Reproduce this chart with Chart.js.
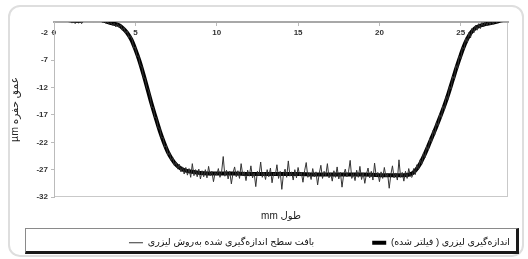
<!DOCTYPE html>
<html>
<head>
<meta charset="utf-8">
<script src="https://cdn.jsdelivr.net/npm/chart.js@4.4.1/dist/chart.umd.min.js"></script>
<style>
  html, body { margin: 0; padding: 0; background: #fff; }
  #wrap { position: relative; width: 528px; height: 259px; }
  .frame { position: absolute; left: 8px; top: 5px; width: 512px; height: 248px; border: 2px solid #dedede; border-radius: 12px; }
  .legend-box { position: absolute; left: 25px; top: 228px; width: 490px; height: 22px; border: 1px solid #8a8a8a; border-right: 3px solid #1a1a1a; border-bottom: 3px solid #1a1a1a; }
  canvas { position: absolute; left: 0; top: 0; }
</style>
</head>
<body>
<div id="wrap">
  <div class="frame"></div>
  <div class="legend-box"></div>
  <canvas id="chart" width="528" height="259"></canvas>
</div>
<script>
// axis ticks
const xTicks = [0, 5, 10, 15, 20, 25];
const yTicks = [-32, -27, -22, -17, -12, -7, -2];

// raw laser profile, sampled every 0.1 mm from 0 mm
const rawStepMm = 0.1;
const rawRim = [0.4, 0.1, 0.5, 0.2, 0.6, 0.3, 0.0, 0.4, 0.2, 0.5,
  0.1, -0.2, 0.2, -0.3, 0.1, -0.2, 0.0, -0.3, 0.3, 0.1,
  0.5, 0.2, 0.6, 0.3, 0.1, 0.5, 0.2, 0.4, 0.0, 0.3,
  -0.1, 0.2, -0.3, 0.0, -0.4];
const rawDescent = [-0.1, -0.6, -0.2, -0.9, -0.3, -1.0, -0.5, -1.5, -1.0, -2.1,
  -1.6, -2.9, -2.5, -3.2, -4.8, -4.6, -6.3, -6.2, -8.0, -8.1,
  -10.2, -10.3, -12.1, -12.4, -13.5, -15.6, -15.6, -17.5, -17.5, -19.4,
  -19.4, -21.2, -21.1, -22.9, -22.6, -24.3, -23.9, -25.3, -24.8, -26.3,
  -25.6, -26.9, -26.0, -27.4, -26.5, -27.8, -26.6, -28.0, -26.8, -28.4,
  -25.9, -28.1, -27.0, -28.3, -26.9, -28.7];
const rawFloor = [-27.2, -28.3, -27.0, -28.5, -26.4, -28.1, -27.3, -29.2, -27.5, -28.0,
  -26.8, -28.4, -27.4, -24.6, -28.2, -27.1, -28.7, -27.3, -29.6, -27.6,
  -26.5, -28.3, -27.2, -28.6, -25.9, -28.0, -27.4, -29.0, -27.1, -28.2,
  -26.3, -28.5, -27.6, -30.1, -27.3, -28.1, -25.6, -28.4, -27.5, -28.8,
  -27.0, -28.3, -26.7, -29.4, -27.6, -28.0, -26.1, -28.6, -27.3, -30.6,
  -27.8, -26.9, -28.4, -25.4, -28.2, -27.4, -28.9, -27.0, -28.5, -26.6,
  -28.1, -27.5, -29.3, -27.2, -25.7, -28.4, -27.6, -28.8, -26.8, -28.3,
  -27.4, -29.8, -27.7, -26.2, -28.6, -27.3, -28.1, -25.9, -28.5, -27.6,
  -29.1, -27.2, -28.4, -26.5, -28.7, -27.5, -30.2, -27.9, -26.9, -28.3,
  -27.4, -25.3, -28.6, -27.7, -29.0, -27.1, -28.4, -26.4, -28.8, -27.6,
  -29.5, -27.8, -26.7, -28.5, -27.3, -28.9, -25.8, -28.2, -27.5, -29.2,
  -27.4, -28.6, -26.6, -28.3, -27.7, -30.4, -27.9, -26.3, -28.5, -27.6,
  -28.9, -25.2, -28.4, -27.5, -29.1, -27.3, -28.6, -26.8, -28.2];
const rawAscent = [-28.4, -26.8, -27.9, -26.1, -27.0, -25.2, -26.0, -24.0, -24.8, -22.7,
  -23.4, -21.3, -22.0, -19.8, -20.6, -18.4, -19.0, -16.9, -17.5, -15.3,
  -16.0, -13.6, -14.2, -11.8, -12.3, -9.9, -10.4, -7.9, -8.5, -6.2,
  -6.7, -4.6, -5.0, -2.9, -3.8, -1.9, -2.9, -1.1, -2.0, -0.6,
  -1.5, -0.3, -1.2, -0.1, -0.9, 0.1, -0.7, 0.2, -0.5, 0.3,
  -0.4, 0.4, -0.2, 0.5, 0.0, 0.6, 0.2, 0.7, 0.3, 0.6];

// filtered profile
const filteredMm = [0, 0.5, 1, 1.5, 2, 2.5, 3, 3.5, 4, 4.25, 4.5, 4.75, 5, 5.25, 5.5, 5.75,
  6, 6.25, 6.5, 6.75, 7, 7.25, 7.5, 7.75, 8, 8.5, 9, 10, 11, 12, 13, 14, 15, 16, 17, 18, 19,
  20, 21, 21.5, 22, 22.25, 22.5, 22.75, 23, 23.25, 23.5, 23.75, 24, 24.25, 24.5, 24.75,
  25, 25.25, 25.5, 25.75, 26, 26.5, 27, 27.5, 27.9];
const filteredDepth = [0.7, 0.6, 0.3, 0.2, 0.5, 0.6, 0.3, -0.2, -0.6, -1.2, -2.0, -3.2, -5.0, -7.1, -9.6, -12.3,
  -15.0, -17.5, -19.9, -22.0, -23.8, -25.1, -26.1, -26.7, -27.1, -27.4, -27.6, -27.7, -27.7, -27.8, -27.8, -27.8, -27.8, -27.9, -27.9, -27.9, -27.9,
  -28.0, -28.0, -28.0, -27.7, -27.0, -25.9, -24.4, -22.7, -20.9, -19.1, -17.2, -15.2, -13.0, -10.6, -8.2,
  -6.0, -4.0, -2.5, -1.5, -0.9, -0.4, -0.1, 0.3, 0.6];

const rawLabel = 'بافت سطح اندازه‌گیری شده به‌روش لیزری';
const filteredLabel = 'اندازه‌گیری لیزری ( فیلتر شده)';
const xTitle = 'طول mm';
const yTitle = 'عمق حفره µm';

// keep persian strings right-to-left inside the canvas
const rtl = s => '\u2067' + s + '\u2069';

const rawPoints = rawRim.concat(rawDescent, rawFloor, rawAscent)
  .map((v, i) => ({ x: +(i * rawStepMm).toFixed(1), y: v }));
const filteredPoints = filteredMm.map((x, i) => ({ x: x, y: filteredDepth[i] }));

Chart.defaults.font.family = '"Liberation Sans", "DejaVu Sans", sans-serif';

const legendGap = 58;

const plotFrame = {
  id: 'plotFrame',
  beforeDraw(chart) {
    const { ctx, chartArea: a } = chart;
    ctx.save();
    ctx.strokeStyle = '#c9c9c9';
    ctx.lineWidth = 1;
    ctx.strokeRect(a.left + 0.5, a.top + 0.5, a.right - a.left - 1, a.bottom - a.top - 1);
    ctx.restore();
  }
};

// wide gaps between legend items without a tall legend box
const legendShift = {
  id: 'legendShift',
  afterLayout(chart) {
    const lg = chart.legend;
    lg.top -= legendGap - 10;
    lg.left += legendGap + 2;
    lg.right += legendGap + 2;
  }
};

new Chart(document.getElementById('chart'), {
  type: 'line',
  data: {
    datasets: [
      { label: rtl(rawLabel), data: rawPoints, borderColor: '#333', borderWidth: 1,
        pointRadius: 0, tension: 0, clip: 0 },
      { label: rtl(filteredLabel), data: filteredPoints, borderColor: '#000', borderWidth: 4,
        pointRadius: 0, cubicInterpolationMode: 'monotone', clip: 0 }
    ]
  },
  options: {
    responsive: false,
    animation: false,
    events: [],
    layout: { padding: { left: 8, right: 20, top: 22, bottom: 7 } },
    plugins: {
      tooltip: { enabled: false },
      legend: {
        position: 'bottom',
        align: 'end',
        maxHeight: 24,
        labels: {
          usePointStyle: true, pointStyle: 'line', pointStyleWidth: 14, boxHeight: 10,
          font: { size: 9.5 }, color: '#111', padding: legendGap
        }
      }
    },
    scales: {
      x: {
        type: 'linear', position: { y: 0 }, min: 0, max: 27.9,
        afterBuildTicks: s => { s.ticks = xTicks.map(v => ({ value: v })); },
        ticks: { font: { size: 8, weight: 'bold' }, color: '#333', padding: 3, maxRotation: 0 },
        grid: { drawOnChartArea: false, tickLength: 3, color: '#bbb' },
        border: { color: '#a8a8a8', width: 2 }
      },
      xTitle: {
        type: 'linear', axis: 'x', position: 'bottom', min: 0, max: 27.9,
        ticks: { display: false }, grid: { display: false }, border: { display: false },
        title: { display: true, text: rtl(xTitle), font: { size: 10 }, color: '#222', padding: { top: 5, bottom: 6 } }
      },
      y: {
        type: 'linear', position: 'left', min: -32, max: 0,
        afterBuildTicks: s => { s.ticks = yTicks.map(v => ({ value: v })); },
        afterFit: s => { s.width = 46; },
        ticks: { font: { size: 8, weight: 'bold' }, color: '#333', padding: 3 },
        grid: { drawOnChartArea: false, tickLength: 3, color: '#bbb' },
        border: { color: '#bbb', width: 1 },
        title: { display: true, text: rtl(yTitle), font: { size: 10.5 }, color: '#222', padding: { top: 1, bottom: 14 } }
      }
    }
  },
  plugins: [plotFrame, legendShift]
});
</script>
</body>
</html>
